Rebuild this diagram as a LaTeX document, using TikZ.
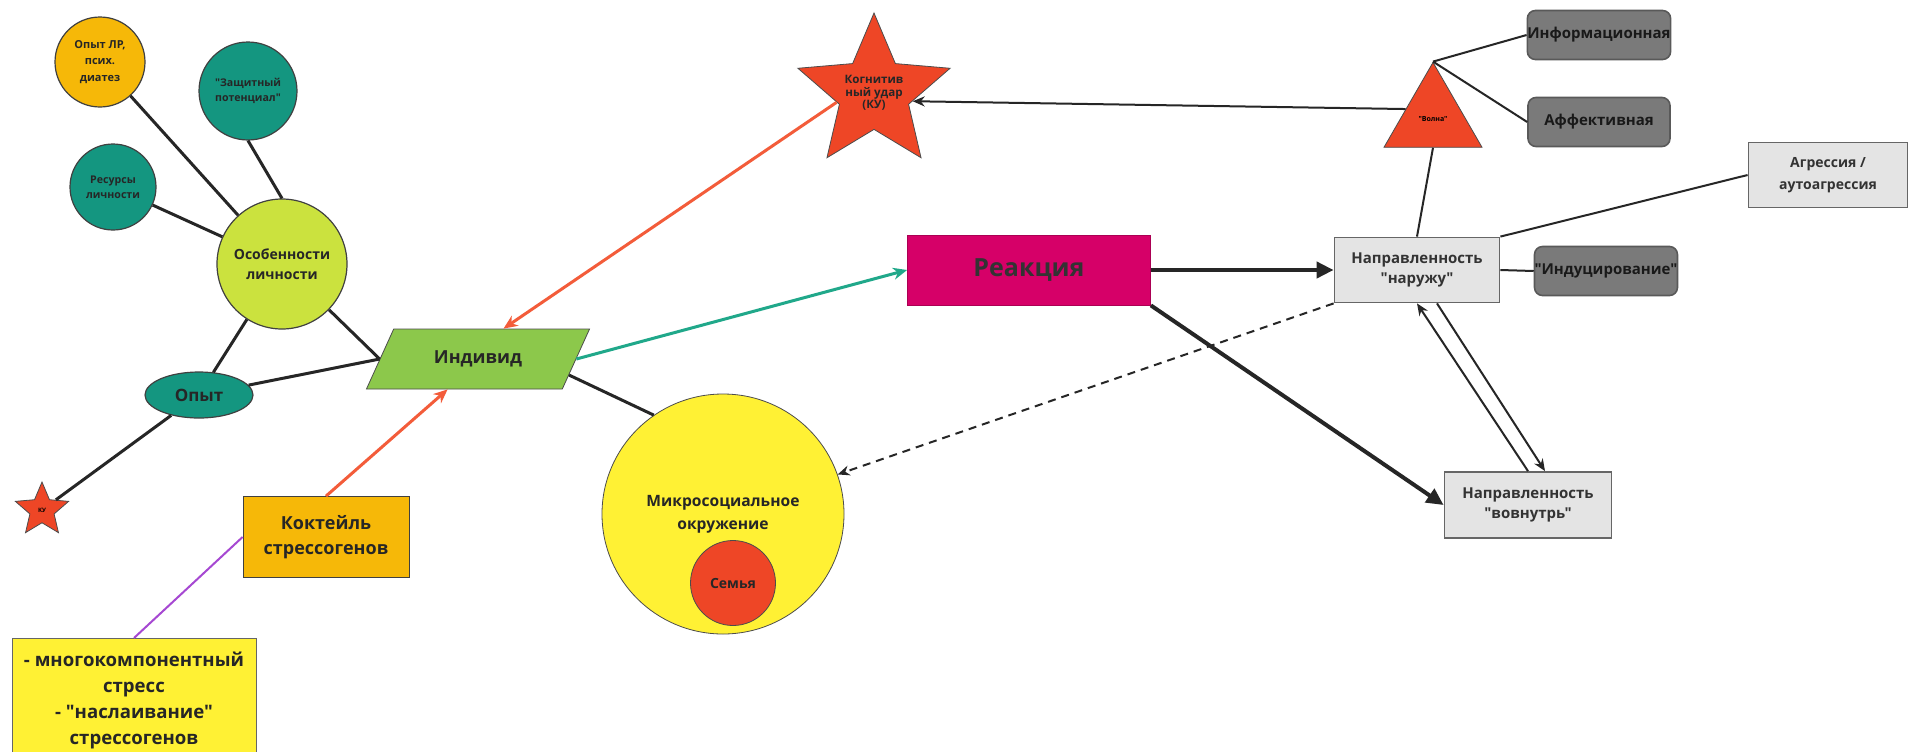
\documentclass[tikz,border=0pt]{standalone}
\usepackage{fontspec}
\setmainfont{Open Sans}[Ligatures=TeXOff]
\usepackage{tikz}
\usetikzlibrary{shapes,arrows.meta}

\definecolor{gold}{RGB}{246,184,8}
\definecolor{tealc}{RGB}{20,150,128}
\definecolor{lime}{RGB}{203,226,62}
\definecolor{leaf}{RGB}{140,200,75}
\definecolor{redc}{RGB}{238,70,38}
\definecolor{crimson}{RGB}{214,0,104}
\definecolor{lemon}{RGB}{255,241,52}
\definecolor{lgrey}{RGB}{228,228,228}
\definecolor{dgrey}{RGB}{122,122,122}
\definecolor{orarr}{RGB}{243,92,58}
\definecolor{tealarr}{RGB}{32,168,138}
\definecolor{purp}{RGB}{166,72,210}
\newcommand{\fsz}[2]{\bfseries\fontsize{#1}{#2}\selectfont}

\begin{document}
\begin{tikzpicture}[x=0.5pt,y=-0.5pt]
	\tikzstyle{bubble}=[draw=black!75,circle,inner sep=0pt,align=center,text=black!85,line width=0.6pt]
	\tikzstyle{greybox}=[draw=black!60,fill=lgrey,rectangle,align=center,inner sep=0pt,text=black!80,line width=0.9pt,font=\fsz{7.5}{10}]
	\tikzstyle{darkbox}=[draw=black!65,fill=dgrey,rectangle,rounded corners=4pt,align=center,inner sep=0pt,text=black!90,line width=0.8pt,font=\fsz{7.5}{10}]
	\tikzstyle{link}=[line width=1.5pt,black!85]
	\tikzstyle{thinlink}=[line width=1pt,black!85]
	\tikzstyle{bigarrow}=[line width=2pt,black!85,-{Triangle[length=8.5pt,width=8pt]}]
	\tikzstyle{colarrow}=[line width=1.5pt,-{Stealth[length=7pt,width=6pt]}]
	\tikzstyle{smallarrow}=[line width=1pt,black!85,-{Stealth[length=6pt,width=5pt]}]

	\useasboundingbox (0,0) rectangle (1908,751);
	\fill[white] (0,0) rectangle (1908,751);

	\node[bubble,fill=gold,minimum size=45pt,font=\fsz{5.5}{8.2}] (lr) at (100,62) {Опыт ЛР,\\псих.\\диатез};
	\node[bubble,fill=tealc,minimum size=49pt,font=\fsz{5.3}{7.5}] (zash) at (248,91) {"Защитный\\потенциал"};
	\node[bubble,fill=tealc,minimum size=43pt,font=\fsz{5.3}{7.5}] (res) at (113,187) {Ресурсы\\личности};
	\node[bubble,fill=lime,minimum size=65pt,font=\fsz{7}{10}] (osob) at (282,264) {Особенности\\личности};
	\node[bubble,ellipse,fill=tealc,minimum width=54pt,minimum height=23pt,font=\fsz{8.5}{10}] (opyt) at (199,395) {Опыт};
	\node[star,star points=5,star point ratio=2.2,draw=black!70,fill=redc,minimum size=28pt,inner sep=0pt,font=\fsz{3}{3.5}] (kus) at (42,510) {КУ};
	\node[trapezium,trapezium left angle=49,trapezium right angle=131,trapezium stretches=true,draw=black!70,fill=leaf,minimum width=112pt,minimum height=30pt,inner sep=0pt,text=black!85,font=\fsz{9}{11}] (indiv) at (478,359) {Индивид};
	\node[draw=black!75,fill=gold,minimum width=83pt,minimum height=40.5pt,align=center,inner sep=0pt,text=black!85,font=\fsz{9}{12.5}] (coct) at (326,537) {Коктейль\\стрессогенов};
	\node[draw=black!60,fill=lemon,anchor=north,minimum width=122pt,minimum height=62pt,align=center,inner sep=0pt,text=black!85,font=\fsz{9.3}{13}] (ybox) at (134,638) {- многокомпонентный\\стресс\\- "наслаивание"\\стрессогенов};

	\node[star,star points=5,star point ratio=2.2,draw=black!70,fill=redc,minimum size=80pt,inner sep=-4pt,align=center,text=black!85,font=\fsz{5.8}{6.2}] (ku) at (874,93) {Когнитив\\ный удар\\(КУ)};
	\node[draw=crimson!80!black,fill=crimson,minimum width=121.5pt,minimum height=35pt,text=black!80,font=\fsz{12.5}{14}] (reak) at (1029,270) {Реакция};
	\node[ellipse,draw=black!70,fill=lemon,minimum width=121pt,minimum height=120pt,align=center,text=black!85,font=\fsz{7.8}{11.5}] (micro) at (723,514) {Микросоциальное\\окружение};
	\node[circle,draw=black!70,fill=redc,minimum size=42.5pt,inner sep=0pt,text=black!85,font=\fsz{7}{8}] (semya) at (733,583) {Семья};

	\node[regular polygon,regular polygon sides=3,draw=black!70,fill=redc,minimum size=56.6pt,inner sep=0pt,font=\fsz{3.5}{4}] (tri) at (1433,119) {"Волна"};
	\node[darkbox,minimum width=71pt,minimum height=24.5pt] (info) at (1599,35) {Информационная};
	\node[darkbox,minimum width=71pt,minimum height=24.5pt] (aff) at (1599,122) {Аффективная};
	\node[greybox,minimum width=79.5pt,minimum height=32.5pt,font=\fsz{7}{11}] (aggr) at (1828,175) {Агрессия /\\аутоагрессия};
	\node[greybox,minimum width=82.5pt,minimum height=32.5pt] (naruzhu) at (1417,270) {Направленность\\"наружу"};
	\node[darkbox,minimum width=70.5pt,minimum height=24.5pt] (induc) at (1606,271) {"Индуцирование"};
	\node[greybox,minimum width=83.5pt,minimum height=33pt] (vnutr) at (1528,505) {Направленность\\"вовнутрь"};

	\draw[link] (lr) -- (osob);
	\draw[link] (zash.south) -- (osob.north);
	\draw[link] (res) -- (osob);
	\draw[link] (osob) -- (opyt);
	\draw[link] (osob) -- (indiv.west);
	\draw[link] (opyt) -- (indiv.west);
	\draw[link] (opyt) -- (kus);
	\draw[link] (indiv.-10) -- (micro.125);
	\draw[colarrow,orarr] (ku.194) -- (indiv.50);
	\draw[colarrow,orarr] (coct.north) -- (indiv.225);
	\draw[line width=1pt,purp] (coct.west) -- (ybox.north);
	\draw[colarrow,tealarr] (indiv.east) -- (reak.west);

	\draw[bigarrow] (reak.east) -- (naruzhu.west);
	\draw[bigarrow] (reak.south east) -- (vnutr.west);
	\draw[smallarrow,dash pattern=on 4pt off 3pt] (naruzhu.south west) -- (micro);
	\draw[smallarrow] (vnutr.north) -- (naruzhu.south);
	\draw[smallarrow] ([xshift=10pt]naruzhu.south) -- ([xshift=8.5pt]vnutr.north);
	\draw[thinlink] (tri.south) -- (naruzhu.north);
	\draw[thinlink] (tri.corner 1) -- (info.west);
	\draw[thinlink] (tri.corner 1) -- (aff.west);
	\draw[smallarrow] (tri.160) -- (ku.-12);
	\draw[thinlink] (naruzhu.north east) -- (aggr.west);
	\draw[thinlink] (naruzhu.east) -- (induc.west);
\end{tikzpicture}
\end{document}
